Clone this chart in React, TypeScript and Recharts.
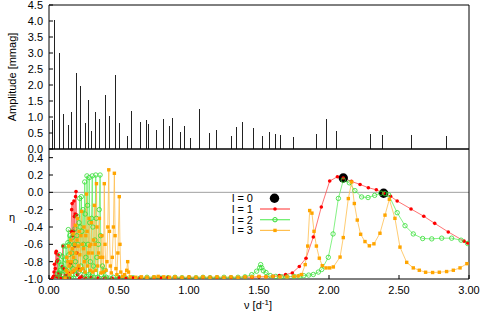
import {
  ComposedChart,
  Bar,
  Line,
  Scatter,
  XAxis,
  YAxis,
  ReferenceLine,
  Legend,
  Label,
} from "recharts";

// amplitude spectrum (top panel)
const ampFreq = [
  0.019, 0.038, 0.071, 0.102, 0.136, 0.155, 0.193, 0.224, 0.255, 0.281, 0.302,
  0.329, 0.36, 0.4, 0.426, 0.469, 0.5, 0.559, 0.586, 0.652, 0.69, 0.705, 0.762,
  0.814, 0.86, 0.876, 0.938, 0.962, 1.01, 1.074, 1.14, 1.19, 1.298, 1.333,
  1.381, 1.457, 1.524, 1.571, 1.612, 1.65, 1.74, 1.91, 1.976, 2.048, 2.29,
  2.379, 2.586, 2.836,
];
const ampValue = [
  0.91, 4.03, 3.01, 1.09, 0.74, 1.15, 2.375, 1.96, 0.82, 1.53, 0.57, 1.15, 0.94,
  1.69, 1.03, 2.32, 0.81, 0.41, 1.19, 0.83, 0.9, 0.78, 0.59, 0.95, 0.73, 0.98,
  0.53, 0.72, 0.33, 1.25, 0.5, 0.6, 0.42, 0.7, 0.84, 0.66, 0.4, 0.52, 0.46,
  0.44, 0.385, 0.46, 0.94, 0.56, 0.46, 0.44, 0.44, 0.4,
];

// eta curves (bottom panel), [nu, eta]
const l0Points = [
  [2.102, 0.165],
  [2.39, -0.01],
];

const l1Points = [
  [0.025, -0.99], [0.032, -0.97], [0.036, -0.92], [0.039, -0.83], [0.042, -0.97],
  [0.045, -0.88], [0.049, -0.7], [0.052, -0.68], [0.055, -0.8], [0.058, -0.97],
  [0.062, -0.78], [0.065, -0.72], [0.068, -0.93], [0.072, -0.99], [0.08, -0.95],
  [0.088, -0.99], [0.094, -0.86], [0.099, -0.62], [0.103, -0.88], [0.108, -0.99],
  [0.118, -0.96], [0.128, -0.99], [0.138, -0.93], [0.146, -0.99], [0.153, -0.82],
  [0.158, -0.45], [0.162, -0.2], [0.165, -0.13], [0.168, -0.5], [0.171, -0.92],
  [0.175, -0.45], [0.178, -0.1], [0.181, -0.28], [0.184, -0.62], [0.187, -0.25],
  [0.19, -0.05], [0.193, 0.01], [0.196, -0.26], [0.199, -0.7], [0.203, -0.95],
  [0.21, -0.88], [0.218, -0.99], [0.235, -0.97], [0.26, -0.99], [0.3, -0.98],
  [0.35, -0.99], [0.4, -0.985], [0.45, -0.99], [0.5, -0.985], [0.55, -0.99],
  [0.6, -0.985], [0.65, -0.99], [0.7, -0.985], [0.75, -0.99], [0.8, -0.985],
  [0.85, -0.98], [0.9, -0.985], [0.95, -0.99], [1.0, -0.98], [1.05, -0.985],
  [1.1, -0.985], [1.15, -0.98], [1.2, -0.985], [1.25, -0.985], [1.3, -0.98],
  [1.35, -0.985], [1.4, -0.98], [1.45, -0.98], [1.5, -0.975], [1.55, -0.975],
  [1.6, -0.97], [1.645, -0.96], [1.69, -0.95], [1.738, -0.93], [1.788, -0.855],
  [1.836, -0.76], [1.888, -0.515], [1.945, -0.17], [2.005, 0.13], [2.06, 0.18],
  [2.102, 0.165], [2.16, 0.126], [2.222, 0.091], [2.281, 0.053], [2.338, 0.03],
  [2.39, -0.01], [2.44, -0.046], [2.487, -0.1], [2.586, -0.192], [2.677, -0.276],
  [2.755, -0.358], [2.852, -0.457], [2.965, -0.563], [2.99, -0.585],
];

const l2Points = [
  [0.055, -0.99], [0.062, -0.94], [0.068, -0.8], [0.072, -0.93], [0.076, -0.72],
  [0.08, -0.9], [0.085, -0.99], [0.091, -0.84], [0.095, -0.74], [0.099, -0.95],
  [0.104, -0.62], [0.108, -0.88], [0.113, -0.99], [0.118, -0.78], [0.122, -0.62],
  [0.126, -0.9], [0.131, -0.99], [0.135, -0.58], [0.138, -0.43], [0.141, -0.72],
  [0.145, -0.6], [0.149, -0.5], [0.153, -0.85], [0.158, -0.99], [0.163, -0.7],
  [0.167, -0.52], [0.171, -0.88], [0.176, -0.99], [0.181, -0.6], [0.185, -0.42],
  [0.189, -0.8], [0.194, -0.95], [0.199, -0.5], [0.203, -0.28], [0.207, -0.6],
  [0.211, -0.92], [0.215, -0.35], [0.219, -0.07], [0.223, -0.4], [0.227, -0.85],
  [0.231, -0.05], [0.235, -0.45], [0.239, -0.9], [0.243, -0.2], [0.247, -0.6],
  [0.251, -0.95], [0.255, 0.12], [0.259, -0.25], [0.263, -0.75], [0.267, -0.97],
  [0.271, 0.19], [0.275, -0.15], [0.279, -0.6], [0.283, -0.95], [0.287, 0.17],
  [0.291, -0.35], [0.295, -0.8], [0.299, -0.97], [0.304, -0.3], [0.309, 0.19],
  [0.313, -0.4], [0.317, -0.85], [0.322, -0.98], [0.328, -0.55], [0.334, 0.2],
  [0.338, -0.3], [0.342, -0.75], [0.347, -0.98], [0.353, -0.6], [0.359, -0.2],
  [0.365, 0.2], [0.369, -0.5], [0.374, -0.95], [0.382, -0.85], [0.39, -0.99],
  [0.4, -0.9], [0.41, -0.98], [0.43, -0.99], [0.46, -0.98], [0.5, -0.985],
  [0.55, -0.99], [0.6, -0.985], [0.65, -0.99], [0.7, -0.98], [0.75, -0.985],
  [0.8, -0.99], [0.85, -0.985], [0.9, -0.98], [0.95, -0.985], [1.0, -0.99],
  [1.05, -0.985], [1.1, -0.98], [1.15, -0.985], [1.2, -0.985], [1.25, -0.98],
  [1.3, -0.985], [1.35, -0.98], [1.4, -0.975], [1.448, -0.95], [1.483, -0.91],
  [1.505, -0.87], [1.512, -0.834], [1.52, -0.87], [1.531, -0.905], [1.55, -0.925],
  [1.58, -0.96], [1.62, -0.97], [1.66, -0.975], [1.7, -0.975], [1.75, -0.97],
  [1.79, -0.968], [1.82, -0.962], [1.855, -0.955], [1.888, -0.948], [1.924, -0.92],
  [1.948, -0.89], [1.995, -0.75], [2.029, -0.48], [2.067, -0.07], [2.102, 0.14],
  [2.145, 0.11], [2.185, 0.02], [2.233, -0.053], [2.279, -0.06], [2.326, -0.035],
  [2.37, -0.01], [2.4, -0.015], [2.425, -0.027], [2.487, -0.235], [2.543, -0.385],
  [2.602, -0.48], [2.669, -0.533], [2.734, -0.537], [2.805, -0.529], [2.876, -0.529],
  [2.943, -0.552], [2.99, -0.59],
];

const l3Points = [
  [0.115, -0.99], [0.122, -0.9], [0.127, -0.75], [0.131, -0.92], [0.136, -0.8],
  [0.14, -0.62], [0.144, -0.85], [0.148, -0.95], [0.152, -0.7], [0.156, -0.55],
  [0.16, -0.8], [0.164, -0.92], [0.168, -0.65], [0.172, -0.48], [0.176, -0.75],
  [0.18, -0.9], [0.184, -0.6], [0.188, -0.38], [0.192, -0.7], [0.196, -0.88],
  [0.2, -0.55], [0.204, -0.3], [0.208, -0.62], [0.212, -0.85], [0.216, -0.45],
  [0.22, -0.72], [0.224, -0.9], [0.228, -0.5], [0.233, -0.22], [0.237, -0.6],
  [0.241, -0.88], [0.246, -0.65], [0.25, -0.4], [0.254, -0.8], [0.258, -0.92],
  [0.263, -0.5], [0.268, -0.02], [0.272, -0.45], [0.276, -0.85], [0.281, -0.7],
  [0.286, -0.3], [0.29, -0.62], [0.294, -0.9], [0.299, -0.6], [0.304, -0.35],
  [0.308, -0.7], [0.312, -0.92], [0.318, -0.55], [0.324, -0.15], [0.329, -0.6],
  [0.334, -0.9], [0.339, 0.1], [0.343, -0.4], [0.348, -0.85], [0.354, -0.7],
  [0.36, -0.3], [0.365, -0.75], [0.371, -0.93], [0.378, -0.5], [0.383, -0.75],
  [0.389, -0.92], [0.395, 0.1], [0.4, -0.6], [0.407, -0.9], [0.414, -0.8],
  [0.42, -0.4], [0.427, 0.26], [0.432, -0.45], [0.438, -0.85], [0.445, -0.93],
  [0.452, -0.75], [0.46, -0.4], [0.467, 0.22], [0.472, -0.5], [0.478, -0.88],
  [0.485, -0.95], [0.492, -0.7], [0.502, -0.05], [0.507, -0.6], [0.513, -0.92],
  [0.525, -0.97], [0.54, -0.95], [0.555, -0.9], [0.562, -0.8], [0.568, -0.92],
  [0.58, -0.975], [0.62, -0.98], [0.66, -0.975], [0.7, -0.98], [0.75, -0.975],
  [0.78, -0.97], [0.82, -0.975], [0.86, -0.98], [0.9, -0.975], [0.95, -0.98],
  [1.0, -0.975], [1.05, -0.98], [1.1, -0.975], [1.15, -0.98], [1.2, -0.975],
  [1.25, -0.98], [1.3, -0.975], [1.35, -0.98], [1.4, -0.975], [1.45, -0.975],
  [1.5, -0.97], [1.55, -0.975], [1.6, -0.97], [1.65, -0.975], [1.7, -0.975],
  [1.75, -0.97], [1.78, -0.965], [1.805, -0.949], [1.83, -0.834], [1.848, -0.62],
  [1.862, -0.21], [1.878, -0.24], [1.893, -0.45], [1.91, -0.62], [1.931, -0.76],
  [1.952, -0.846], [1.979, -0.872], [2.005, -0.872], [2.031, -0.861], [2.079, -0.747],
  [2.102, -0.522], [2.138, -0.072], [2.162, 0.12], [2.181, -0.129], [2.202, -0.32],
  [2.226, -0.484], [2.257, -0.568], [2.288, -0.617], [2.321, -0.594], [2.364, -0.472],
  [2.4, -0.263], [2.431, -0.08], [2.471, -0.3], [2.507, -0.632], [2.555, -0.808],
  [2.602, -0.872], [2.645, -0.899], [2.69, -0.922], [2.74, -0.925], [2.788, -0.922],
  [2.84, -0.914], [2.888, -0.899], [2.936, -0.872], [2.985, -0.823],
];

const xTicks = [0, 0.5, 1, 1.5, 2, 2.5, 3];
const ampTicks = [0, 0.5, 1, 1.5, 2, 2.5, 3, 3.5, 4, 4.5];
const etaTicks = [-1, -0.8, -0.6, -0.4, -0.2, 0, 0.2, 0.4];

const ampRows = ampFreq.map((nu, i) => ({ nu, amp: ampValue[i] }));
const toRows = (pts: number[][]) => pts.map(([nu, eta]) => ({ nu, eta }));
const l0Rows = toRows(l0Points);
const l1Rows = toRows(l1Points);
const l2Rows = toRows(l2Points);
const l3Rows = toRows(l3Points);

const FONT = "'Liberation Sans', Arial, Helvetica, sans-serif";
const tickStyle = { fontSize: 11, fill: "#000", fontFamily: FONT };

const RED = "#ff0000";
const RED_LINE = "#ff5050";
const GREEN = "#33dd33";
const GREEN_LINE = "#66ee66";
const ORANGE = "#ffa500";
const ORANGE_LINE = "#ffbf50";

const Stick = (p: any) => (
  <rect x={p.x} y={p.y} width={p.width} height={p.height} fill="#222" shapeRendering="crispEdges" />
);

const BigDot = (p: any) => <circle cx={p.cx} cy={p.cy} r={4.7} fill="#000" />;

const Square = (p: any) => {
  if (p.cx == null || p.cy == null) return <g key={p.key} />;
  return <rect key={p.key} x={p.cx - 1.7} y={p.cy - 1.7} width={3.4} height={3.4} fill={ORANGE} />;
};

function LegendBox() {
  const rows = [
    { label: "l = 0", line: null, mark: "big" },
    { label: "l = 1", line: RED_LINE, mark: "red" },
    { label: "l = 2", line: GREEN_LINE, mark: "green" },
    { label: "l = 3", line: ORANGE_LINE, mark: "orange" },
  ];
  return (
    <svg width={80} height={46} style={{ display: "block", overflow: "visible" }}>
      {rows.map((r, i) => {
        const y = 6.3 + i * 10.7;
        return (
          <g key={r.label}>
            <text x={28} y={y + 4} textAnchor="end" fontSize={11} fontFamily={FONT} fill="#000">
              {r.label}
            </text>
            {r.line && <line x1={35} x2={65} y1={y} y2={y} stroke={r.line} strokeWidth={1.2} />}
            {r.mark === "big" && <circle cx={49.5} cy={y} r={4.7} fill="#000" />}
            {r.mark === "red" && <circle cx={50} cy={y} r={1.8} fill={RED} />}
            {r.mark === "green" && <circle cx={50} cy={y} r={2.2} fill="none" stroke={GREEN} />}
            {r.mark === "orange" && <rect x={48.3} y={y - 1.7} width={3.4} height={3.4} fill={ORANGE} />}
          </g>
        );
      })}
    </svg>
  );
}

export default function App() {
  return (
    <div style={{ position: "absolute", left: 0, top: 0, width: 480, height: 315, background: "#fff" }}>
      <div style={{ position: "absolute", left: 0, top: 0 }}>
        <ComposedChart width={480} height={160} data={ampRows} margin={{ top: 4, right: 10, bottom: 10, left: 0 }}>
          <XAxis xAxisId="b" dataKey="nu" type="number" domain={[0, 3]} ticks={xTicks} tick={false}
            tickSize={-4} height={1} interval={0} stroke="#000" />
          <XAxis xAxisId="t" orientation="top" dataKey="nu" type="number" domain={[0, 3]} ticks={xTicks}
            tick={false} tickSize={-4} height={1} interval={0} stroke="#000" />
          <YAxis yAxisId="l" type="number" domain={[0, 4.5]} ticks={ampTicks} tickSize={-4} tickMargin={10}
            width={49} interval={0} tickFormatter={(v: number) => v.toFixed(1)} tick={tickStyle} stroke="#000">
            <Label
              content={() => (
                <text x={12} y={77} transform="rotate(-90 12 77)" textAnchor="middle" dominantBaseline="central"
                  fontSize={11} fontFamily={FONT} fill="#000">
                  Amplitude [mmag]
                </text>
              )}
            />
          </YAxis>
          <YAxis yAxisId="r" orientation="right" type="number" domain={[0, 4.5]} ticks={ampTicks} tick={false}
            tickSize={-4} width={1} interval={0} stroke="#000" />
          <Bar xAxisId="b" yAxisId="l" dataKey="amp" barSize={1} shape={Stick} isAnimationActive={false} />
        </ComposedChart>
      </div>
      <div style={{ position: "absolute", left: 0, top: 0 }}>
        <ComposedChart width={480} height={315} margin={{ top: 148, right: 10, bottom: 0, left: 0 }}>
          <XAxis xAxisId="b" dataKey="nu" type="number" domain={[0, 3]} ticks={xTicks} tickSize={-4}
            tickMargin={11} height={36} interval={0} tickFormatter={(v: number) => v.toFixed(2)} tick={tickStyle}
            allowDataOverflow stroke="#000">
            <Label
              content={() => (
                <text x={258} y={309} textAnchor="middle" fontSize={11} fontFamily={FONT} fill="#000">
                  <tspan>ν [d</tspan>
                  <tspan dy={-4} fontSize={8}>-1</tspan>
                  <tspan dy={4}>]</tspan>
                </text>
              )}
            />
          </XAxis>
          <XAxis xAxisId="t" orientation="top" dataKey="nu" type="number" domain={[0, 3]} ticks={xTicks}
            tick={false} tickSize={-4} height={1} interval={0} stroke="#000" />
          <YAxis yAxisId="l" type="number" domain={[-1, 0.5]} ticks={etaTicks} tickSize={-4} tickMargin={10}
            width={49} interval={0} tickFormatter={(v: number) => v.toFixed(1)} tick={tickStyle}
            allowDataOverflow stroke="#000">
            <Label
              content={() => (
                <text x={12} y={221} textAnchor="middle" fontSize={11} fontFamily={FONT} fill="#000">
                  η
                </text>
              )}
            />
          </YAxis>
          <YAxis yAxisId="r" orientation="right" type="number" domain={[-1, 0.5]} ticks={etaTicks} tick={false}
            tickSize={-4} width={1} interval={0} stroke="#000" />
          <ReferenceLine xAxisId="b" yAxisId="l" y={0} stroke="#a0a0a0" />
          <Scatter xAxisId="b" yAxisId="l" data={l0Rows} dataKey="eta" shape={BigDot} isAnimationActive={false} />
          <Line xAxisId="b" yAxisId="l" data={l1Rows} dataKey="eta" stroke={RED_LINE} strokeWidth={1}
            strokeOpacity={0.8} dot={{ r: 1.8, fill: RED, stroke: "none" }} activeDot={false}
            isAnimationActive={false} />
          <Line xAxisId="b" yAxisId="l" data={l2Rows} dataKey="eta" stroke={GREEN_LINE} strokeWidth={1}
            strokeOpacity={0.8} dot={{ r: 2.2, fill: "none", stroke: GREEN, strokeWidth: 1 }} activeDot={false}
            isAnimationActive={false} />
          <Line xAxisId="b" yAxisId="l" data={l3Rows} dataKey="eta" stroke={ORANGE_LINE} strokeWidth={1}
            strokeOpacity={0.8} dot={Square} activeDot={false} isAnimationActive={false} />
          <Legend layout="horizontal" verticalAlign="middle" align="center" content={() => <LegendBox />}
            wrapperStyle={{ left: 225, top: 192, width: 80, height: 46 }} />
        </ComposedChart>
      </div>
    </div>
  );
}
